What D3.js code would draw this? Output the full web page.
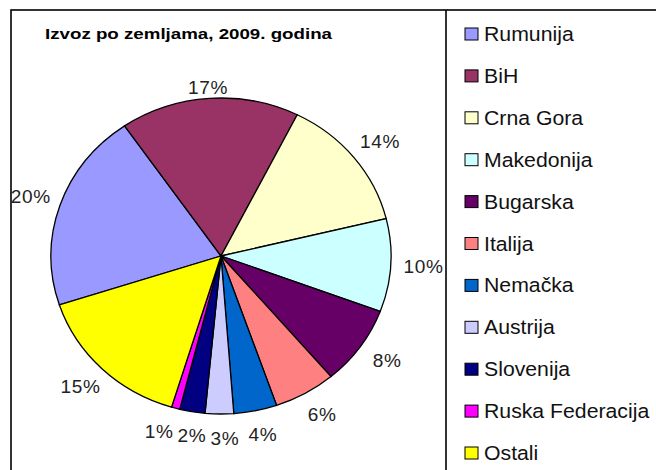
<!DOCTYPE html>
<html>
<head>
<meta charset="utf-8">
<script src="https://cdn.jsdelivr.net/npm/d3@7"></script>
<style>
  body { margin: 0; background: #fff; }
  svg { display: block; font-family: "Liberation Sans", Arial, sans-serif; }
</style>
</head>
<body>
<div id="chart"></div>
<script>
var countries = ["Rumunija", "BiH", "Crna Gora", "Makedonija", "Bugarska", "Italija",
                 "Nemačka", "Austrija", "Slovenija", "Ruska Federacija", "Ostali"];
var shares = [20.4, 17.0, 13.8, 9.5, 8.1, 5.9, 4.1, 2.7, 2.4, 0.8, 15.3];
var colors = ["#9999ff", "#993366", "#ffffcc", "#ccffff", "#660066", "#ff8080",
              "#0066cc", "#ccccff", "#000080", "#ff00ff", "#ffff00"];
var title = "Izvoz po zemljama, 2009. godina";

var width = 656, height = 470;
var cx = 221, cy = 256, rx = 170, ry = 158;
var start = 252 * Math.PI / 180;
var stretch = 1.09;   // the original text is a bit wider than plain Arial

var svg = d3.select("#chart").append("svg")
    .attr("width", width)
    .attr("height", height);

// chart frame + legend divider
svg.append("rect")
    .attr("x", 11).attr("y", 10)
    .attr("width", 700).attr("height", 520)
    .attr("fill", "none").attr("stroke", "#000").attr("stroke-width", 1.6);
svg.append("line")
    .attr("x1", 446).attr("x2", 446).attr("y1", 10).attr("y2", height)
    .attr("stroke", "#000").attr("stroke-width", 1.6);

svg.append("text")
    .attr("x", 45).attr("y", 39)
    .attr("font-size", 15).attr("font-weight", "bold")
    .attr("textLength", 287).attr("lengthAdjust", "spacingAndGlyphs")
    .text(title);

var total = d3.sum(shares);
var pie = d3.pie().sort(null).value(function(d) { return d; })
    .startAngle(start).endAngle(start + 2 * Math.PI);
var arcs = pie(shares);
var arc = d3.arc().innerRadius(0).outerRadius(rx);

// pie is drawn on a circle then squashed vertically, like the original
var g = svg.append("g")
    .attr("transform", "translate(" + cx + "," + cy + ") scale(1," + (ry / rx) + ")");
g.selectAll("path")
    .data(arcs)
    .enter().append("path")
    .attr("d", arc)
    .attr("fill", function(d, i) { return colors[i]; })
    .attr("stroke", "#000")
    .attr("stroke-width", 1.3)
    .attr("vector-effect", "non-scaling-stroke");

// percent labels outside the slices
var labels = svg.append("g").selectAll("text")
    .data(arcs)
    .enter().append("text")
    .attr("font-size", 17.5)
    .attr("letter-spacing", 0.6)
    .attr("fill", "#222")
    .attr("text-anchor", "middle")
    .text(function(d) { return Math.round(d.value / total * 100) + "%"; });

var pos = arcs.map(function(d, i) {
    var a = (d.startAngle + d.endAngle) / 2;
    var ex = cx + rx * Math.sin(a), ey = cy - ry * Math.cos(a);
    return {
        x: ex + 32 * Math.sin(a),
        y: Math.max(88, ey - 25 * Math.cos(a)),
        w: labels.nodes()[i].getComputedTextLength() * stretch
    };
});

// push overlapping labels apart sideways
for (var k = 0; k < 60; k++) {
    for (var i = 0; i < pos.length; i++) {
        for (var j = i + 1; j < pos.length; j++) {
            var p = pos[i], q = pos[j];
            var need = (p.w + q.w) / 2 + 4;
            if (Math.abs(p.y - q.y) < 14 && Math.abs(p.x - q.x) < need) {
                var shift = (need - Math.abs(p.x - q.x)) / 2;
                var s = p.x < q.x ? -1 : 1;
                p.x += s * shift;
                q.x -= s * shift;
            }
        }
    }
}

labels.attr("transform", function(d, i) {
    return "translate(" + (pos[i].x + 1) + "," + (pos[i].y + 6) + ") scale(" + stretch + ",1)";
});

// legend
var legend = svg.append("g").selectAll("g")
    .data(countries)
    .enter().append("g")
    .attr("transform", function(d, i) { return "translate(465," + (34 + i * 41.9) + ")"; });
legend.append("rect")
    .attr("x", 0).attr("y", -6)
    .attr("width", 13).attr("height", 12)
    .attr("fill", function(d, i) { return colors[i]; })
    .attr("stroke", "#000").attr("stroke-width", 1);
legend.append("text")
    .attr("transform", "translate(19,7) scale(" + stretch + ",1)")
    .attr("font-size", 19.5)
    .attr("fill", "#111")
    .text(function(d) { return d; });
</script>
</body>
</html>
